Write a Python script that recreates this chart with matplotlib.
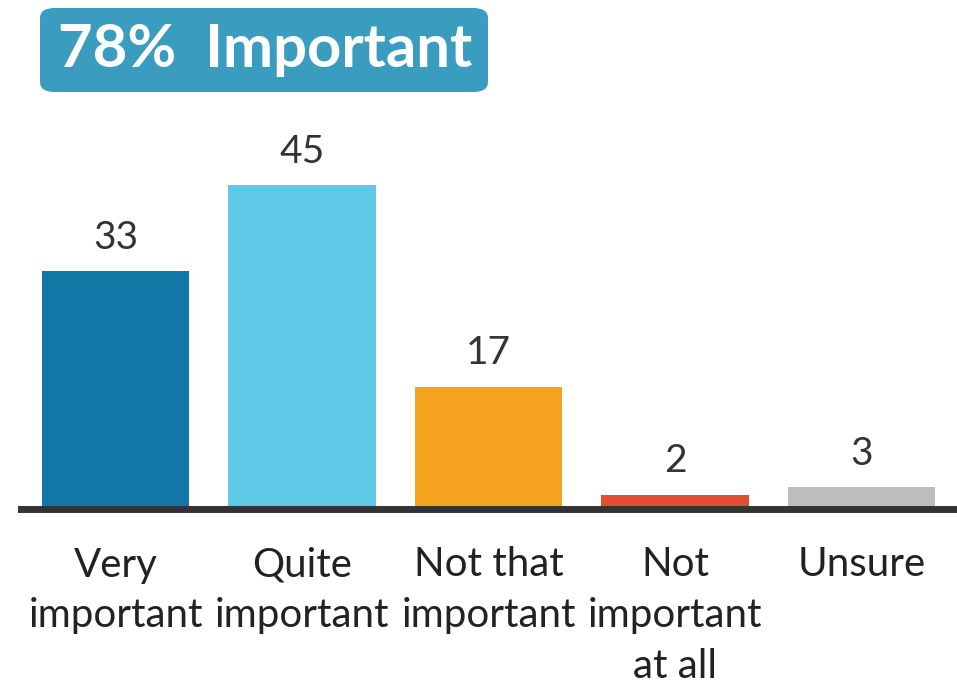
import matplotlib.pyplot as plt
from matplotlib.patches import FancyBboxPatch

# datos
categories = ["Very\nimportant", "Quite\nimportant", "Not that\nimportant", "Not\nimportant\nat all", "Unsure"]
values = [33, 45, 17, 2, 3]
colors = ["#1178A7", "#5FCAE7", "#F5A31E", "#E04F31", "#BDBDBD"]
title = "78%  Important"

plt.rcParams['font.family'] = ['Lato', 'DejaVu Sans']

W, H = 957, 686
fig = plt.figure(figsize=(W / 100, H / 100), dpi=100)

# eje: base en y=509 px, 7.2 px por unidad
ax_bottom = (H - 509) / H
ax_top = (H - 110) / H
ax = fig.add_axes([21 / W, ax_bottom, 937 / W, ax_top - ax_bottom])
ymax = (509 - 110) / 7.2
ax.set_ylim(0, ymax)
ax.set_xlim(-0.507, 4.517)

x = range(len(values))
ax.bar(x, values, width=0.79, color=colors, zorder=2)
for i, v in enumerate(values):
    ax.annotate(str(v), (i, v), xytext=(0, 11), textcoords="offset points",
                ha="center", va="bottom", fontsize=28, color="#333333")

for s in ["top", "right", "left"]:
    ax.spines[s].set_visible(False)
ax.spines["bottom"].set_linewidth(5)
ax.spines["bottom"].set_color("#333333")
ax.set_yticks([])
ax.set_xticks(list(x))
ax.set_xticklabels(categories, fontsize=29, color="#222222", linespacing=1.45)
ax.tick_params(axis="x", length=0, pad=27)

# caja del título
box = FancyBboxPatch((40 / W, (H - 92) / H), 448 / W, 84 / H,
                     boxstyle="round,pad=0,rounding_size=0.015",
                     transform=fig.transFigure, facecolor="#3A9DC0",
                     edgecolor="none")
fig.patches.append(box)
fig.text(265 / W, (H - 50) / H, title, ha="center", va="center",
         fontsize=43, fontweight="bold", color="white")

fig.savefig("out.png", dpi=100)
